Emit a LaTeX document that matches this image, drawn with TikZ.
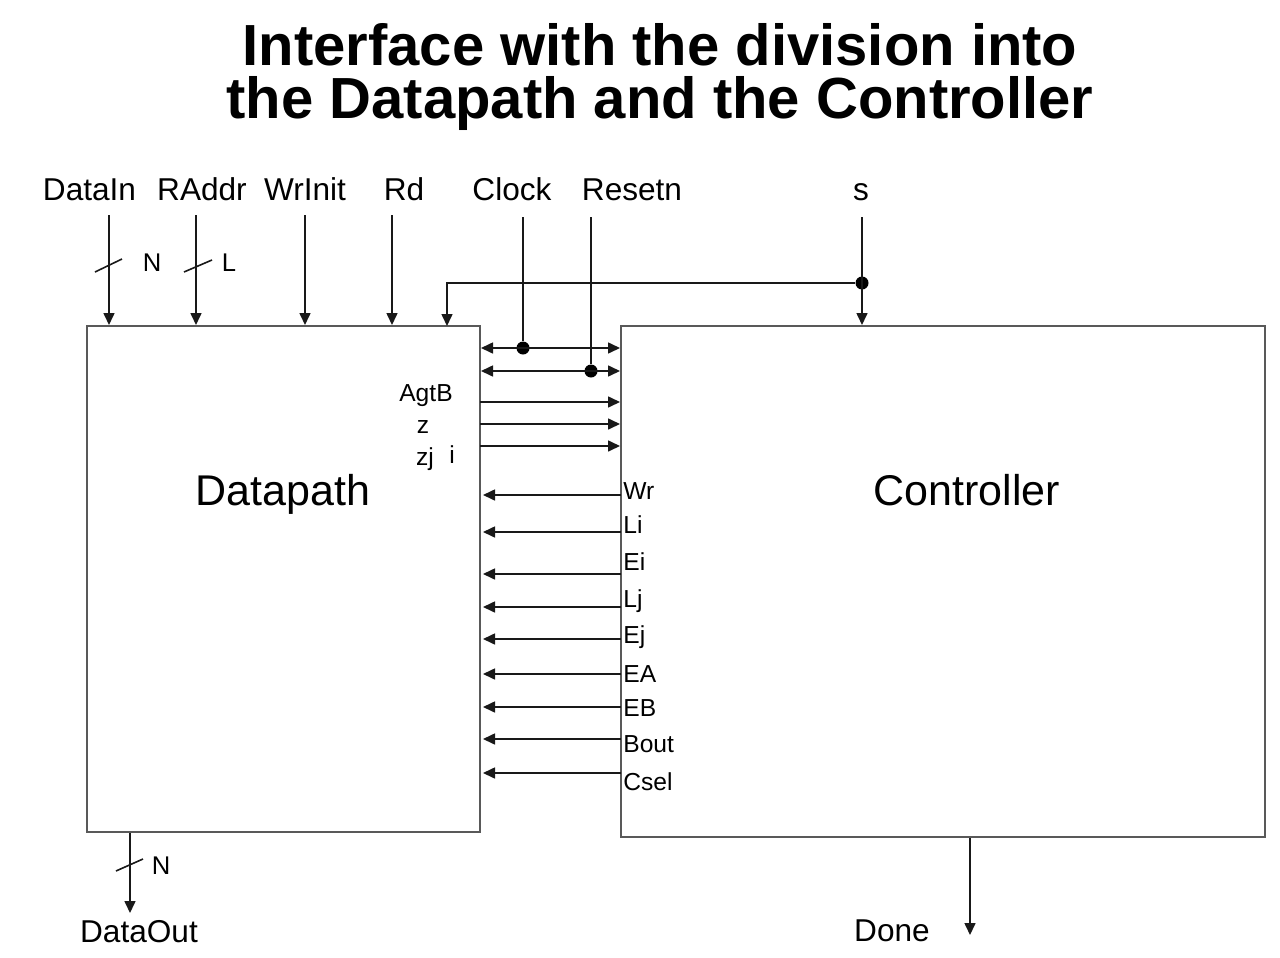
\documentclass[tikz,border=0pt]{standalone}
\usepackage{fontspec}
\setmainfont{Liberation Sans}
\usetikzlibrary{arrows.meta,calc}
\begin{document}
\begin{tikzpicture}[x=0.5pt,y=-0.5pt,
  ttl/.style={font=\fontsize{29}{32}\selectfont\bfseries, inner sep=0, anchor=base},
  lbl/.style={font=\fontsize{15.8}{19}\selectfont, inner sep=0, anchor=base},
  big/.style={font=\fontsize{21.5}{25}\selectfont, inner sep=0, anchor=base},
  bus/.style={font=\fontsize{12.8}{15}\selectfont, inner sep=0},
  sig/.style={font=\fontsize{12.3}{14}\selectfont, inner sep=0, anchor=base west},
  wire/.style={line width=0.8pt, draw=black!90},
  arr/.style={wire, -{Triangle[length=6pt,width=5.5pt]}},
  darr/.style={wire, {Triangle[length=6pt,width=5.5pt]}-{Triangle[length=6pt,width=5.5pt]}},
  box/.style={draw=black!65, line width=1pt, inner sep=0, fill=none},
  dot/.style={circle, fill=black, inner sep=0, minimum size=6.5pt}]
\useasboundingbox (0,0) rectangle (1280,958);

% title
\node[ttl] (t1) at (660,65) {Interface with the division into};
\node[ttl] (t2) at (660,118) {the Datapath and the Controller};

% boxes
\node[box, minimum width=196.5pt, minimum height=253pt] (dp) at (283.5,579) {};
\node[box, minimum width=322pt, minimum height=255.5pt] (ctrl) at (943,581.5) {};
\node[big] (dpl) at (283,505) {Datapath};
\node[big] (ctl) at (967,505) {Controller};

% top input labels
\node[lbl] (lDataIn) at (89.5,200) {DataIn};
\node[lbl] (lRAddr) at (202,200) {RAddr};
\node[lbl] (lWrInit) at (305,200) {WrInit};
\node[lbl] (lRd) at (404,200) {Rd};
\node[lbl] (lClock) at (512,200) {Clock};
\node[lbl] (lResetn) at (632,200) {Resetn};
\node[lbl] (lS) at (861,200) {s};

% top input wires
\coordinate (inDataIn) at (109,215);
\coordinate (inRAddr) at (196,215);
\coordinate (inWrInit) at (305,215);
\coordinate (inRd) at (392,215);
\coordinate (inClock) at (523,217);
\coordinate (inResetn) at (591,217);
\coordinate (inS) at (862,217);
\foreach \n in {DataIn,RAddr,WrInit,Rd}{
  \draw[arr] (in\n) -- (in\n |- dp.north);
}
% bus marks
\draw[wire] (95,272) -- (122,259);
\node[bus] (bN1) at (152,263) {N};
\draw[wire] (184,272) -- (212,260);
\node[bus] (bL) at (229,263) {L};

% s
\node[dot] (sdot) at (862,283) {};
\coordinate (dpS) at (447,326);
\draw[arr] (inS) -- (inS |- ctrl.north);
\draw[arr] (sdot) -| (dpS);

% clock and resetn
\node[dot] (clkdot) at (523,348) {};
\node[dot] (rstdot) at (591,371) {};
\draw[wire] (inClock) -- (clkdot);
\draw[wire] (inResetn) -- (rstdot);
\draw[darr] (clkdot -| dp.east) -- (clkdot -| ctrl.west);
\draw[darr] (rstdot -| dp.east) -- (rstdot -| ctrl.west);

% status signals
\coordinate (sAgtB) at (480,402);
\coordinate (sz) at (480,424);
\coordinate (szj) at (480,446);
\foreach \n in {AgtB,z,zj}{
  \draw[arr] (s\n) -- (s\n -| ctrl.west);
}
\node[font=\fontsize{12.3}{14}\selectfont, inner sep=0, anchor=base] (lAgtB) at (426,401) {AgtB};
\node[font=\fontsize{12.3}{14}\selectfont, inner sep=0, anchor=base] (lz) at (423,433) {z};
\node[font=\fontsize{12.3}{14}\selectfont, inner sep=0, anchor=base] (lzj) at (425,465) {zj};
\node[font=\fontsize{12.3}{14}\selectfont, inner sep=0, anchor=base] (li) at (452,463) {i};

% control signals
\foreach \n/\ya/\yb in {Wr/495/499, Li/532/533, Ei/574/570, Lj/607/607, Ej/639/643, EA/674/682, EB/707/716, Bout/739/752, Csel/773/790}{
  \coordinate (c\n) at (621,\ya);
  \draw[arr] (c\n) -- ($(c\n -| dp.east)+(2,0)$);
  \node[sig] (l\n) at (623,\yb) {\n};
}

% outputs
\coordinate (oData) at (130,913);
\draw[arr] (oData |- dp.south) -- (oData);
\draw[wire] (116,871) -- (143,859);
\node[bus] (bN2) at (161,866) {N};
\node[lbl] (lDataOut) at (139,942) {DataOut};
\coordinate (oDone) at (970,935);
\draw[arr] (oDone |- ctrl.south) -- (oDone);
\node[lbl] (lDone) at (892,941) {Done};
\end{tikzpicture}
\end{document}
